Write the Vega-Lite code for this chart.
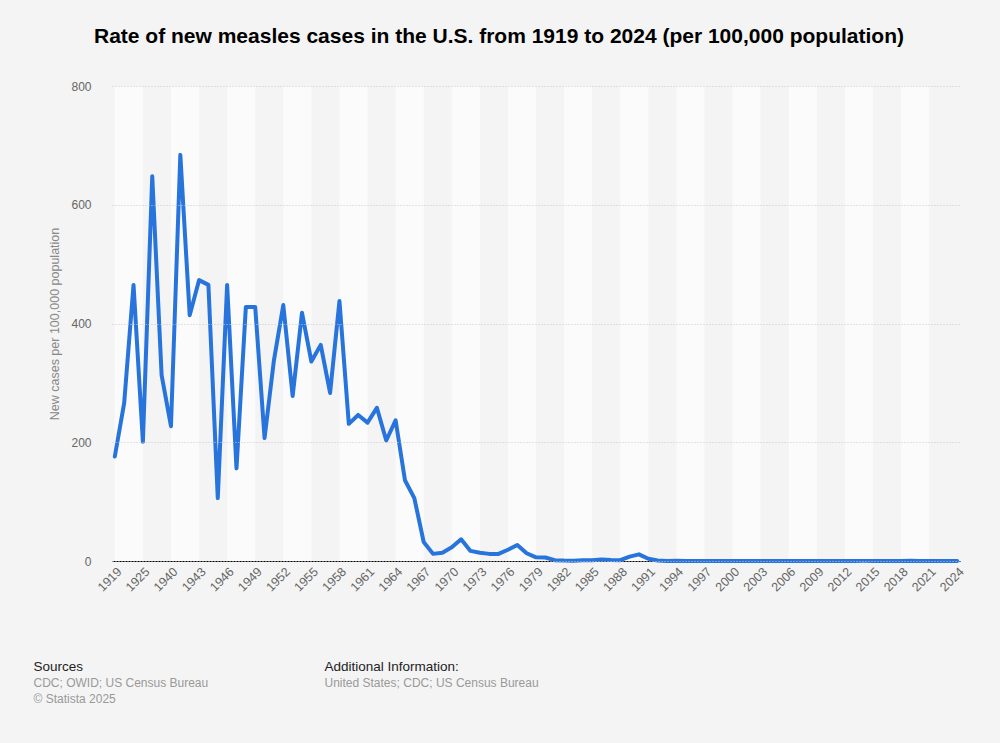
{
  "$schema": "https://vega.github.io/schema/vega-lite/v6.json",
  "width": 848,
  "height": 475,
  "autosize": {"type": "none"},
  "padding": {"left": 112, "top": 86, "right": 40, "bottom": 182},
  "background": "#f4f4f4",
  "title": {
    "text": "Rate of new measles cases in the U.S. from 1919 to 2024 (per 100,000 population)",
    "font": "Liberation Sans",
    "fontSize": 21,
    "fontWeight": "bold",
    "color": "#000000",
    "anchor": "middle",
    "frame": "group",
    "dx": -37,
    "offset": 12,
    "baseline": "bottom"
  },
  "config": {
    "view": {"stroke": null},
    "font": "Liberation Sans",
    "axis": {"labelFont": "Liberation Sans", "titleFont": "Liberation Sans"}
  },
  "datasets": {
    "rates": [
      {"year": 1919, "rate": 176}, {"year": 1921, "rate": 266}, {"year": 1923, "rate": 465},
      {"year": 1925, "rate": 201}, {"year": 1930, "rate": 648}, {"year": 1935, "rate": 313},
      {"year": 1940, "rate": 227}, {"year": 1941, "rate": 684}, {"year": 1942, "rate": 414},
      {"year": 1943, "rate": 473}, {"year": 1944, "rate": 465}, {"year": 1945, "rate": 106},
      {"year": 1946, "rate": 465}, {"year": 1947, "rate": 156}, {"year": 1948, "rate": 428},
      {"year": 1949, "rate": 428}, {"year": 1950, "rate": 207}, {"year": 1951, "rate": 338},
      {"year": 1952, "rate": 431}, {"year": 1953, "rate": 278}, {"year": 1954, "rate": 418},
      {"year": 1955, "rate": 336}, {"year": 1956, "rate": 364}, {"year": 1957, "rate": 283},
      {"year": 1958, "rate": 438}, {"year": 1959, "rate": 231}, {"year": 1960, "rate": 246},
      {"year": 1961, "rate": 233}, {"year": 1962, "rate": 258}, {"year": 1963, "rate": 203},
      {"year": 1964, "rate": 237}, {"year": 1965, "rate": 136}, {"year": 1966, "rate": 106},
      {"year": 1967, "rate": 32}, {"year": 1968, "rate": 12}, {"year": 1969, "rate": 14},
      {"year": 1970, "rate": 23}, {"year": 1971, "rate": 36.5}, {"year": 1972, "rate": 17},
      {"year": 1973, "rate": 14}, {"year": 1974, "rate": 12}, {"year": 1975, "rate": 12},
      {"year": 1976, "rate": 19}, {"year": 1977, "rate": 27}, {"year": 1978, "rate": 13},
      {"year": 1979, "rate": 6.2}, {"year": 1980, "rate": 5.9}, {"year": 1981, "rate": 1.4},
      {"year": 1982, "rate": 0.7}, {"year": 1983, "rate": 0.6}, {"year": 1984, "rate": 1.1},
      {"year": 1985, "rate": 1.2}, {"year": 1986, "rate": 2.6}, {"year": 1987, "rate": 1.5},
      {"year": 1988, "rate": 1.4}, {"year": 1989, "rate": 7.3}, {"year": 1990, "rate": 11.2},
      {"year": 1991, "rate": 3.8}, {"year": 1992, "rate": 0.9}, {"year": 1993, "rate": 0.12},
      {"year": 1994, "rate": 0.37}, {"year": 1995, "rate": 0.12}, {"year": 1996, "rate": 0.19},
      {"year": 1997, "rate": 0.05}, {"year": 1998, "rate": 0.04}, {"year": 1999, "rate": 0.04},
      {"year": 2000, "rate": 0.03}, {"year": 2001, "rate": 0.04}, {"year": 2002, "rate": 0.02},
      {"year": 2003, "rate": 0.02}, {"year": 2004, "rate": 0.01}, {"year": 2005, "rate": 0.02},
      {"year": 2006, "rate": 0.02}, {"year": 2007, "rate": 0.01}, {"year": 2008, "rate": 0.05},
      {"year": 2009, "rate": 0.02}, {"year": 2010, "rate": 0.02}, {"year": 2011, "rate": 0.07},
      {"year": 2012, "rate": 0.02}, {"year": 2013, "rate": 0.06}, {"year": 2014, "rate": 0.21},
      {"year": 2015, "rate": 0.06}, {"year": 2016, "rate": 0.02}, {"year": 2017, "rate": 0.04},
      {"year": 2018, "rate": 0.11}, {"year": 2019, "rate": 0.39}, {"year": 2020, "rate": 0.004},
      {"year": 2021, "rate": 0.015}, {"year": 2022, "rate": 0.04}, {"year": 2023, "rate": 0.02},
      {"year": 2024, "rate": 0.08}
    ],
    "stripes": [
      {"from": 1919, "to": 1925}, {"from": 1940, "to": 1943}, {"from": 1946, "to": 1949},
      {"from": 1952, "to": 1955}, {"from": 1958, "to": 1961}, {"from": 1964, "to": 1967},
      {"from": 1970, "to": 1973}, {"from": 1976, "to": 1979}, {"from": 1982, "to": 1985},
      {"from": 1988, "to": 1991}, {"from": 1994, "to": 1997}, {"from": 2000, "to": 2003},
      {"from": 2006, "to": 2009}, {"from": 2012, "to": 2015}, {"from": 2018, "to": 2021}
    ]
  },
  "resolve": {"axis": {"x": "independent", "y": "independent"}},
  "layer": [
    {
      "data": {"name": "stripes"},
      "mark": {"type": "rect", "fill": "#fbfbfb"},
      "encoding": {
        "x": {
          "field": "from", "type": "ordinal",
          "scale": {"type": "point", "padding": 0.3},
          "axis": {
            "orient": "bottom",
            "labels": false, "ticks": false, "domain": false, "grid": false,
            "title": ["CDC; OWID; US Census Bureau", "© Statista 2025"],
            "titleX": -79, "titleY": 125, "titleAlign": "left", "titleBaseline": "alphabetic",
            "titleFontSize": 12, "titleFontWeight": "normal", "titleColor": "#999999",
            "titleLineHeight": 16
          }
        },
        "x2": {"field": "to"}
      }
    },
    {
      "data": {"name": "rates"},
      "mark": {"type": "line", "color": "#2774dc", "strokeWidth": 4, "strokeCap": "round", "strokeJoin": "round"},
      "encoding": {
        "x": {
          "field": "year", "type": "ordinal",
          "scale": {"type": "point", "padding": 0.3},
          "axis": {
            "orient": "bottom",
            "values": [1919, 1925, 1940, 1943, 1946, 1949, 1952, 1955, 1958, 1961, 1964, 1967, 1970, 1973, 1976, 1979, 1982, 1985, 1988, 1991, 1994, 1997, 2000, 2003, 2006, 2009, 2012, 2015, 2018, 2021, 2024],
            "labelAngle": -45, "labelFontSize": 12.5, "labelColor": "#666666", "labelPadding": 4,
            "labelOverlap": false,
            "ticks": false, "grid": false, "domainColor": "#000000", "domainWidth": 1,
            "title": "Sources",
            "titleX": -79, "titleY": 109, "titleAlign": "left", "titleBaseline": "alphabetic",
            "titleFontSize": 13.5, "titleFontWeight": "normal", "titleColor": "#222222"
          }
        },
        "y": {
          "field": "rate", "type": "quantitative",
          "scale": {"domain": [0, 800], "nice": false},
          "axis": {
            "orient": "left",
            "values": [0, 200, 400, 600, 800],
            "grid": true, "gridColor": "#c8c8c8", "gridDash": [1, 2], "gridWidth": 1,
            "domain": false, "ticks": false, "labelPadding": 21,
            "labelFontSize": 12, "labelColor": "#666666",
            "title": "New cases per 100,000 population",
            "titleFontSize": 12.5, "titleFontWeight": "normal", "titleColor": "#888888",
            "titleX": -58, "titleY": 237.5, "titleAlign": "center", "titleBaseline": "middle",
            "zindex": 1
          }
        }
      }
    },
    {
      "data": {"name": "rates"},
      "mark": {"type": "point", "opacity": 0},
      "encoding": {
        "x": {
          "field": "year", "type": "ordinal",
          "scale": {"type": "point", "padding": 0.3},
          "axis": {
            "orient": "bottom",
            "labels": false, "ticks": false, "domain": false, "grid": false,
            "title": "Additional Information:",
            "titleX": 212, "titleY": 109, "titleAlign": "left", "titleBaseline": "alphabetic",
            "titleFontSize": 13.5, "titleFontWeight": "normal", "titleColor": "#222222"
          }
        },
        "y": {"field": "rate", "type": "quantitative", "axis": null}
      }
    },
    {
      "data": {"name": "rates"},
      "mark": {"type": "point", "opacity": 0},
      "encoding": {
        "x": {
          "field": "year", "type": "ordinal",
          "scale": {"type": "point", "padding": 0.3},
          "axis": {
            "orient": "bottom",
            "labels": false, "ticks": false, "domain": false, "grid": false,
            "title": "United States; CDC; US Census Bureau",
            "titleX": 212, "titleY": 125, "titleAlign": "left", "titleBaseline": "alphabetic",
            "titleFontSize": 12, "titleFontWeight": "normal", "titleColor": "#999999"
          }
        },
        "y": {"field": "rate", "type": "quantitative", "axis": null}
      }
    }
  ]
}
